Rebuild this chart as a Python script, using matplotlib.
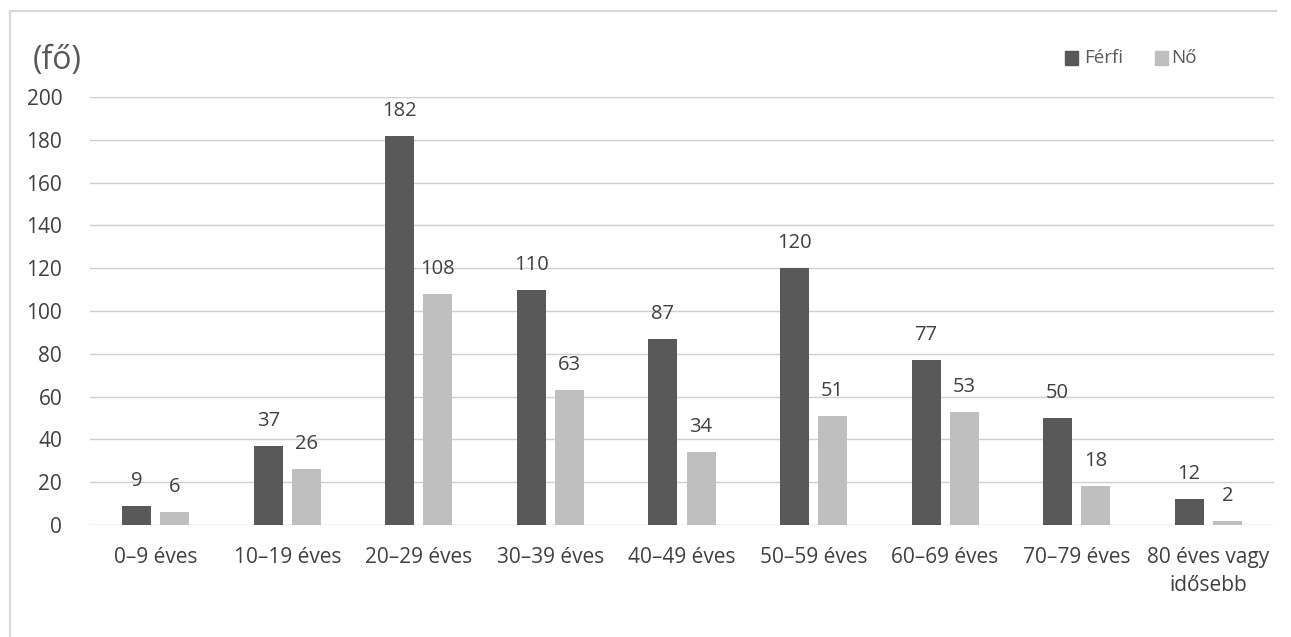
import matplotlib.pyplot as plt
import numpy as np
from matplotlib.patches import Rectangle

plt.rcParams['font.family'] = ['Open Sans', 'DejaVu Sans']

categories = ['0–9 éves', '10–19 éves', '20–29 éves', '30–39 éves', '40–49 éves',
              '50–59 éves', '60–69 éves', '70–79 éves', '80 éves vagy\nidősebb']
ferfi = [9, 37, 182, 110, 87, 120, 77, 50, 12]
no = [6, 26, 108, 63, 34, 51, 53, 18, 2]

dark = '#595959'
light = '#bfbfbf'
txt = '#404040'

fig = plt.figure(figsize=(12.91, 6.37), dpi=100)
ax = fig.add_axes([90/1291, 1 - 525/637, (1274 - 90)/1291, (525 - 97)/637])

x = np.arange(len(categories))
w = 0.22
off = 0.145
b1 = ax.bar(x - off, ferfi, w, color=dark, zorder=3)
b2 = ax.bar(x + off, no, w, color=light, zorder=3)

for bars, vals in ((b1, ferfi), (b2, no)):
    for b, v in zip(bars, vals):
        ax.text(b.get_x() + b.get_width()/2, v + 7, str(v), ha='center', va='bottom',
                fontsize=14.5, color=txt)

ax.set_xlim(-0.5, len(categories) - 0.5)
ax.set_ylim(0, 200)
ax.set_yticks(range(0, 201, 20))
ax.yaxis.grid(True, color='#d0d0d0', linewidth=1, zorder=0)
ax.set_axisbelow(True)
for s in ax.spines.values():
    s.set_visible(False)
ax.tick_params(length=0, labelsize=15, colors=txt, pad=20)
ax.tick_params(axis='x', pad=16)
ax.set_xticks(x)
ax.set_xticklabels(categories, linespacing=1.45)

fig.text(33/1291, 1 - 60/637, '(fő)', fontsize=23, color=dark, va='center')

# legend
ly = 1 - 58/637
fig.patches.append(Rectangle((1065/1291, ly - 6.5/637), 13/1291, 13/637, color=dark,
                             transform=fig.transFigure, figure=fig))
fig.text(1084/1291, ly, 'Férfi', fontsize=13.5, color=dark, va='center')
fig.patches.append(Rectangle((1155/1291, ly - 6.5/637), 13/1291, 13/637, color=light,
                             transform=fig.transFigure, figure=fig))
fig.text(1171/1291, ly, 'Nő', fontsize=13.5, color=dark, va='center')

# frame lines
fig.add_artist(plt.Line2D([10/1291, 10/1291], [0, 1 - 11/637], color='#d9d9d9',
                          linewidth=1.5, transform=fig.transFigure))
fig.add_artist(plt.Line2D([10/1291, 1276/1291], [1 - 11/637, 1 - 11/637], color='#d9d9d9',
                          linewidth=1.5, transform=fig.transFigure))

fig.savefig('out.png', dpi=100, facecolor='white')
